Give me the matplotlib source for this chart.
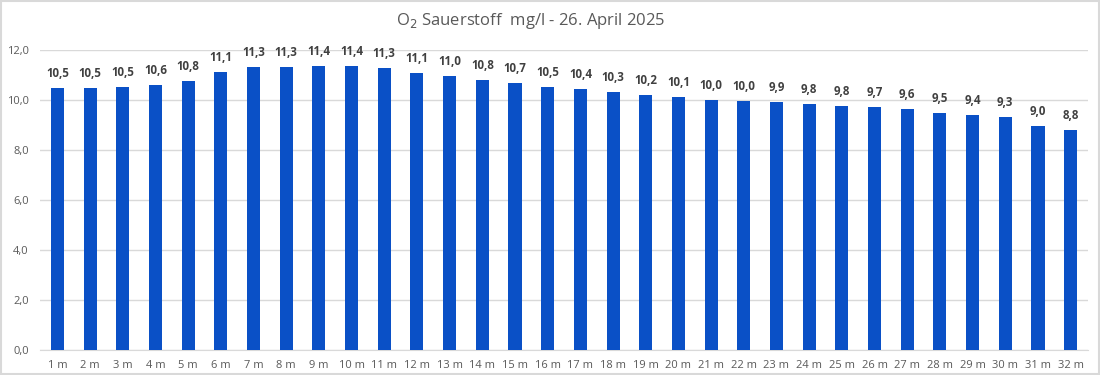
import matplotlib.pyplot as plt
from matplotlib.patches import Rectangle

# depth labels and oxygen values (mg/l)
depths = [f"{i} m" for i in range(1, 33)]
oxygen = [10.48, 10.48, 10.52, 10.60, 10.77, 11.13, 11.32, 11.32, 11.36, 11.36,
          11.28, 11.08, 10.96, 10.80, 10.68, 10.52, 10.44, 10.32, 10.20, 10.12,
          10.00, 9.96, 9.92, 9.84, 9.76, 9.72, 9.64, 9.48, 9.40, 9.32,
          8.96, 8.80]
y_ticks = [0, 2, 4, 6, 8, 10, 12]

plt.rcParams['font.family'] = ['Open Sans', 'DejaVu Sans']

fig = plt.figure(figsize=(11, 3.75), dpi=100)
ax = fig.add_axes([0.0364, 0.0667, 0.9527, 0.80])

x = list(range(len(depths)))
bars = ax.bar(x, oxygen, width=0.4, color='#0a50c6', zorder=3)

for xi, v in zip(x, oxygen):
    ax.annotate(f"{v:.1f}".replace('.', ','), (xi, v), xytext=(0, 5.5),
                textcoords='offset points', ha='center', va='bottom',
                fontsize=8.3, fontweight='bold', color='#404040')

ax.set_xlim(-0.53, 31.53)
ax.set_ylim(0, 12)
ax.set_yticks(y_ticks)
ax.set_yticklabels([f"{t:.1f}".replace('.', ',') for t in y_ticks])
ax.set_xticks(x)
ax.set_xticklabels(depths)
ax.tick_params(length=0, labelsize=8, labelcolor='#595959')
ax.tick_params(axis='x', pad=7)
ax.tick_params(axis='y', pad=8)
ax.grid(axis='y', color='#d9d9d9', lw=1, zorder=0)
for s in ('top', 'right', 'left'):
    ax.spines[s].set_visible(False)
ax.spines['bottom'].set_color('#d9d9d9')

fig.text(0.482, 0.945, r"O$_2$ Sauerstoff  mg/l - 26. April 2025", ha='center',
         va='center', fontsize=12, color='#595959')

# thin frame round the whole chart
fig.patches.append(Rectangle((0.001, 0.002), 0.998, 0.996, transform=fig.transFigure,
                             fill=False, edgecolor='#d9d9d9', lw=1.5))

fig.savefig('out.png', dpi=100)
